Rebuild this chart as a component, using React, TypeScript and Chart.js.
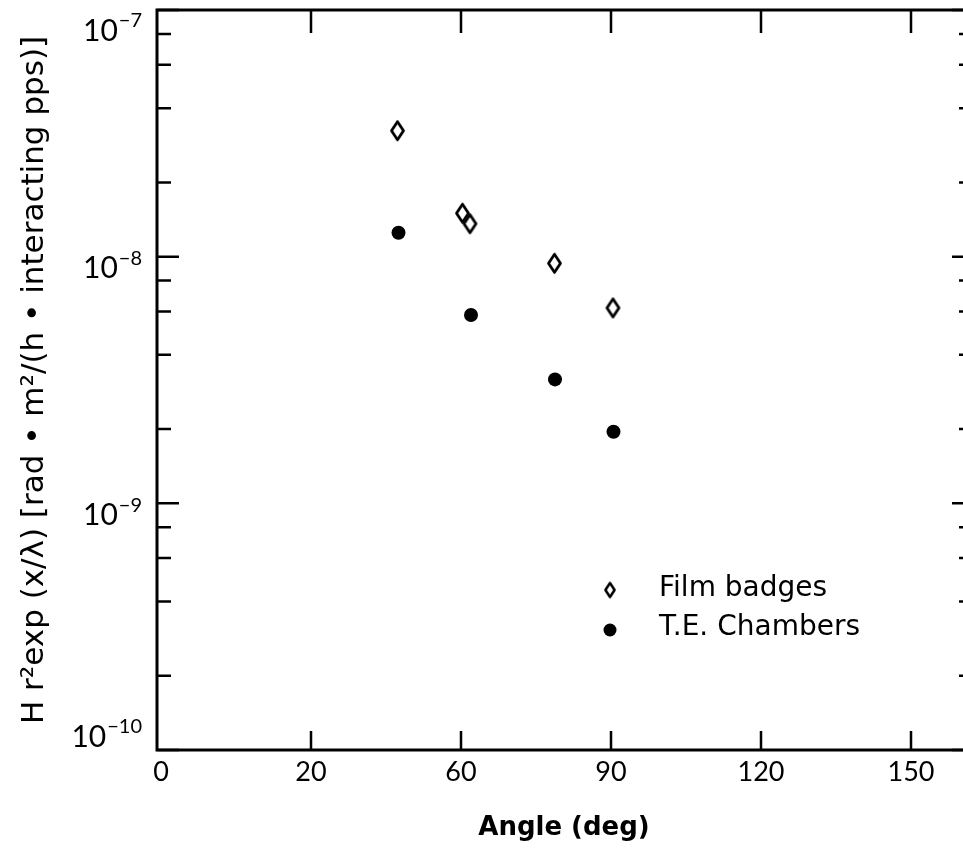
import { useEffect, useRef } from "react";
import { Chart, registerables } from "chart.js";

Chart.register(...registerables);

// ---------- data ----------
const seriesLabels = ["Film badges", "T.E. Chambers"];
const filmAngles = [47.3, 60.3, 61.8, 78.7, 90.4];
const filmValues = [3.24e-8, 1.5e-8, 1.36e-8, 9.4e-9, 6.2e-9];
const teAngles = [47.5, 62.0, 78.8, 90.5];
const teValues = [1.25e-8, 5.8e-9, 3.18e-9, 1.95e-9];

const xTickValues = [0, 30, 60, 90, 120, 150];
const xTickLabels = ["0", "20", "60", "90", "120", "150"];
const yMajorTicks = [1e-10, 1e-9, 1e-8, 1e-7];
const yTickExponents = ["−10", "−9", "−8", "−7"];
const yMinorTicks = [
  2e-10, 4e-10, 6e-10, 8e-10,
  2e-9, 4e-9, 6e-9, 8e-9,
  2e-8, 4e-8, 6e-8, 8e-8,
];
const xTitle = "Angle (deg)";
const yTitle = "H r²exp (x/λ) [rad • m²/(h • interacting pps)]";

const FONT = "Lato, 'DejaVu Sans', sans-serif";
const WIDE = "'DejaVu Sans', sans-serif";

function makeDiamond(hw: number, hh: number, lw: number) {
  const c = document.createElement("canvas");
  const w = Math.ceil(2 * hw + lw + 2);
  const h = Math.ceil(2 * hh + lw + 2);
  c.width = w;
  c.height = h;
  const g = c.getContext("2d")!;
  const cx = w / 2;
  const cy = h / 2;
  g.strokeStyle = "#000";
  g.lineWidth = lw;
  g.lineJoin = "round";
  g.beginPath();
  g.moveTo(cx, cy - hh);
  g.lineTo(cx + hw, cy);
  g.lineTo(cx, cy + hh);
  g.lineTo(cx - hw, cy);
  g.closePath();
  g.stroke();
  return c;
}

export default function App() {
  const ref = useRef<HTMLCanvasElement>(null);

  useEffect(() => {
    const canvas = ref.current!;
    const diamond = makeDiamond(6, 9, 2.8);
    const legendDiamond = makeDiamond(4.6, 7, 2.5);

    const framePlugin = {
      id: "frameTicks",
      afterDraw(chart: any) {
        const { ctx, chartArea } = chart;
        const { left, right, top, bottom } = chartArea;
        const xs = chart.scales.x;
        const ys = chart.scales.y;
        ctx.save();
        ctx.strokeStyle = "#000";
        ctx.fillStyle = "#000";
        // frame
        ctx.lineWidth = 3;
        ctx.strokeRect(left, top, right - left, bottom - top);
        // x ticks (bottom and top, inward)
        ctx.lineWidth = 2.5;
        for (const v of xTickValues) {
          if (v === xTickValues[0]) continue;
          const px = xs.getPixelForValue(v);
          ctx.beginPath();
          ctx.moveTo(px, bottom);
          ctx.lineTo(px, bottom - 19);
          ctx.moveTo(px, top);
          ctx.lineTo(px, top + 23);
          ctx.stroke();
        }
        // y ticks (left and right, inward)
        for (const v of yMajorTicks) {
          const py = ys.getPixelForValue(v);
          ctx.beginPath();
          ctx.moveTo(left, py);
          ctx.lineTo(left + 22, py);
          ctx.moveTo(right, py);
          ctx.lineTo(right - 19, py);
          ctx.stroke();
        }
        for (const v of yMinorTicks) {
          const py = ys.getPixelForValue(v);
          ctx.beginPath();
          ctx.moveTo(left, py);
          ctx.lineTo(left + 14, py);
          ctx.moveTo(right, py);
          ctx.lineTo(right - 12, py);
          ctx.stroke();
        }
        // y tick labels: 10 with superscript exponent
        yMajorTicks.forEach((v, i) => {
          const py = ys.getPixelForValue(v);
          const yc = Math.min(Math.max(py + 12, top + 21), bottom - 13);
          const xr = left - 15;
          ctx.textAlign = "right";
          ctx.textBaseline = "middle";
          ctx.font = `20px ${FONT}`;
          const ew = ctx.measureText(yTickExponents[i]).width;
          ctx.fillText(yTickExponents[i], xr, yc - 10);
          ctx.font = `30px ${FONT}`;
          ctx.fillText("10", xr - ew - 1, yc);
        });
        // legend
        const lx = left + 453;
        const tx = left + 502;
        const ly0 = top + 580;
        const ly1 = top + 620;
        ctx.drawImage(
          legendDiamond,
          lx - legendDiamond.width / 2,
          ly0 - legendDiamond.height / 2
        );
        ctx.beginPath();
        ctx.arc(lx, ly1, 6.5, 0, Math.PI * 2);
        ctx.fill();
        ctx.font = `28px ${WIDE}`;
        ctx.textAlign = "left";
        ctx.textBaseline = "middle";
        ctx.fillText(chart.data.datasets[0].label, tx, ly0 - 1);
        ctx.fillText(chart.data.datasets[1].label, tx, ly1 - 2);
        ctx.restore();
      },
    };

    const chart = new Chart(canvas, {
      type: "scatter",
      data: {
        datasets: [
          {
            label: seriesLabels[0],
            data: filmAngles.map((a, i) => ({ x: a, y: filmValues[i] })),
            pointStyle: diamond as any,
            pointRadius: 8,
            showLine: false,
          },
          {
            label: seriesLabels[1],
            data: teAngles.map((a, i) => ({ x: a, y: teValues[i] })),
            pointStyle: "circle",
            pointRadius: 7,
            backgroundColor: "#000",
            borderColor: "#000",
            borderWidth: 0,
            showLine: false,
          },
        ],
      },
      options: {
        responsive: false,
        animation: false,
        devicePixelRatio: 1,
        events: [],
        layout: { padding: { top: 10, right: 3, left: 0, bottom: 0 } },
        plugins: {
          legend: { display: false },
          tooltip: { enabled: false },
        },
        scales: {
          x: {
            type: "linear",
            min: -0.8,
            max: 162,
            afterBuildTicks: (s: any) => {
              s.ticks = xTickValues.map((v) => ({ value: v }));
            },
            afterFit: (s: any) => {
              s.height = 100;
            },
            grid: { display: false, drawTicks: false },
            border: { display: false },
            ticks: {
              autoSkip: false,
              maxRotation: 0,
              padding: 6,
              color: "#000",
              font: { family: FONT, size: 27 },
              callback: (_v: any, i: number) => xTickLabels[i],
            },
            title: {
              display: true,
              text: xTitle,
              color: "#000",
              font: { family: WIDE, size: 26, weight: "bold" },
              padding: { top: 4, bottom: 6 },
            },
          },
          y: {
            type: "logarithmic",
            min: 1e-10,
            max: 1e-7,
            afterFit: (s: any) => {
              s.width = 157;
            },
            grid: { display: false, drawTicks: false },
            border: { display: false },
            ticks: { display: false },
            title: {
              display: true,
              text: yTitle,
              color: "#000",
              font: { family: WIDE, size: 31 },
              padding: { top: 16, bottom: 0 },
            },
          },
        },
      } as any,
      plugins: [framePlugin],
    });

    return () => chart.destroy();
  }, []);

  return (
    <div
      style={{
        position: "fixed",
        left: 0,
        top: 0,
        width: 963,
        height: 850,
        overflow: "hidden",
        background: "#fff",
      }}
    >
      <canvas ref={ref} width={980} height={850} style={{ display: "block" }} />
    </div>
  );
}
